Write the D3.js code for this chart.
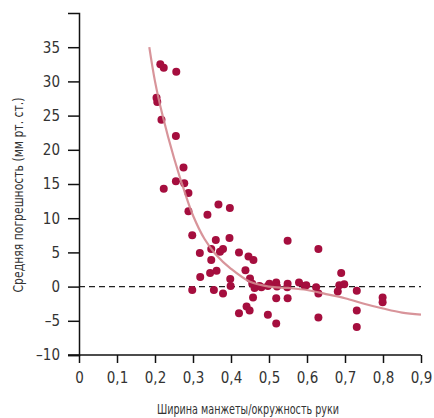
<!DOCTYPE html>
<html>
<head>
<meta charset="utf-8">
<script src="https://cdn.jsdelivr.net/npm/d3@7"></script>
<style>
  body { margin: 0; background: #fff; }
  svg text { font-family: "DejaVu Sans Condensed", "Liberation Sans Narrow", "Liberation Sans", sans-serif; fill: #333; }
</style>
</head>
<body>
<svg id="chart" width="434" height="418"></svg>
<script>
// measured points: [cuff width / arm circumference, mean error mmHg]
const points = [
  [0.214, 32.5], [0.223, 32.0], [0.256, 31.4],
  [0.204, 27.6], [0.206, 27.0], [0.217, 24.4],
  [0.255, 22.0], [0.275, 17.4], [0.255, 15.4], [0.277, 15.1], [0.223, 14.3],
  [0.288, 13.7], [0.288, 11.0], [0.338, 10.5], [0.367, 12.0], [0.397, 11.5],
  [0.298, 7.5], [0.36, 6.8], [0.396, 7.1], [0.549, 6.7], [0.63, 5.5],
  [0.318, 4.9], [0.348, 5.5], [0.371, 5.1], [0.379, 5.5], [0.421, 5.0],
  [0.446, 4.4], [0.459, 3.9], [0.348, 3.9],
  [0.438, 2.4], [0.345, 2.0], [0.362, 2.3], [0.319, 1.4], [0.398, 1.1], [0.450, 1.2],
  [0.298, -0.5], [0.355, -0.5], [0.379, -1.0], [0.399, 0.1],
  [0.456, 0.4], [0.475, 0.1], [0.462, -0.2], [0.480, -0.1], [0.497, 0.1],
  [0.501, 0.4], [0.519, 0.6], [0.521, 0.0], [0.549, 0.4], [0.548, -0.1],
  [0.579, 0.6], [0.594, 0.1], [0.598, 0.2], [0.624, -0.1],
  [0.458, -1.6], [0.519, -1.7], [0.549, -1.7], [0.63, -1.0],
  [0.441, -2.9], [0.449, -3.5], [0.421, -3.9], [0.497, -4.1], [0.519, -5.4], [0.63, -4.5],
  [0.690, 2.0], [0.685, 0.2], [0.698, 0.35], [0.681, -0.7], [0.731, -0.6],
  [0.731, -3.5], [0.731, -5.9], [0.799, -1.6], [0.799, -2.3]
];

// fitted curve
const fitX = [0.185, 0.2, 0.22, 0.25, 0.28, 0.3, 0.33, 0.36, 0.4, 0.45, 0.5, 0.55, 0.6, 0.65, 0.7, 0.75, 0.8, 0.85, 0.9];
const fitY = [35, 30, 25, 18.8, 13.5, 10.4, 7.0, 4.7, 2.6, 0.7, 0.0, -0.2, -0.5, -1.1, -1.7, -2.5, -3.2, -3.8, -4.1];

const xTicks = [0, 0.1, 0.2, 0.3, 0.4, 0.5, 0.6, 0.7, 0.8, 0.9];
const yTicks = [-10, -5, 0, 5, 10, 15, 20, 25, 30, 35];

const xTitle = "Ширина манжеты/окружность руки";
const yTitle = "Средняя погрешность (мм рт. ст.)";

const margin = { top: 13, right: 13, bottom: 63, left: 79 };
const svg = d3.select("#chart");
const width = +svg.attr("width") - margin.left - margin.right;
const height = +svg.attr("height") - margin.top - margin.bottom;

const x = d3.scaleLinear().domain([0, 0.9]).range([0, width]);
const y = d3.scaleLinear().domain([-10, 40]).range([height, 0]);

const g = svg.append("g").attr("transform", `translate(${margin.left},${margin.top})`);

const fmt = (v) => String(v).replace(".", ",").replace("-", "–");

// zero reference line
g.append("line")
  .attr("x1", 0).attr("x2", x(0.9))
  .attr("y1", y(0)).attr("y2", y(0))
  .attr("stroke", "#222").attr("stroke-width", 1.4)
  .attr("stroke-dasharray", "6,4");

// points
g.append("g").selectAll("circle")
  .data(points)
  .join("circle")
  .attr("cx", (d) => x(d[0]))
  .attr("cy", (d) => y(d[1]))
  .attr("r", 4)
  .attr("fill", "#a50e3e");

// fit curve on top
const line = d3.line()
  .x((d, i) => x(fitX[i]))
  .y((d) => y(d))
  .curve(d3.curveCatmullRom.alpha(0.5));

g.append("path")
  .datum(fitY)
  .attr("d", line)
  .attr("fill", "none")
  .attr("stroke", "#d4888f")
  .attr("stroke-width", 2.2)
  .attr("opacity", 0.9);

// axes
const xAxis = g.append("g")
  .attr("transform", `translate(0,${height})`)
  .call(d3.axisBottom(x).tickValues(xTicks).tickFormat(fmt).tickSize(8).tickPadding(9));

const yAxis = g.append("g")
  .call(d3.axisLeft(y).tickValues(yTicks).tickFormat(fmt).tickSize(11).tickPadding(8));

[xAxis, yAxis].forEach((a) => {
  a.select(".domain").attr("stroke", "#111").attr("stroke-width", 1.5);
  a.selectAll(".tick line").attr("stroke", "#111").attr("stroke-width", 1.5);
  a.selectAll(".tick text").style("font-size", "15px").attr("fill", "#333");
});

// x axis line starts at the end of the -10 tick
xAxis.select(".domain").attr("d", `M-11,0H${width}`);

// titles are set in a narrow face in the original, squeeze to its width
svg.append("text")
  .attr("x", 248)
  .attr("y", 414)
  .attr("text-anchor", "middle")
  .attr("textLength", 182)
  .attr("lengthAdjust", "spacingAndGlyphs")
  .style("font-size", "14px")
  .text(xTitle);

svg.append("text")
  .attr("transform", "translate(23,195) rotate(-90)")
  .attr("text-anchor", "middle")
  .attr("textLength", 195)
  .attr("lengthAdjust", "spacingAndGlyphs")
  .style("font-size", "14px")
  .text(yTitle);
</script>
</body>
</html>
